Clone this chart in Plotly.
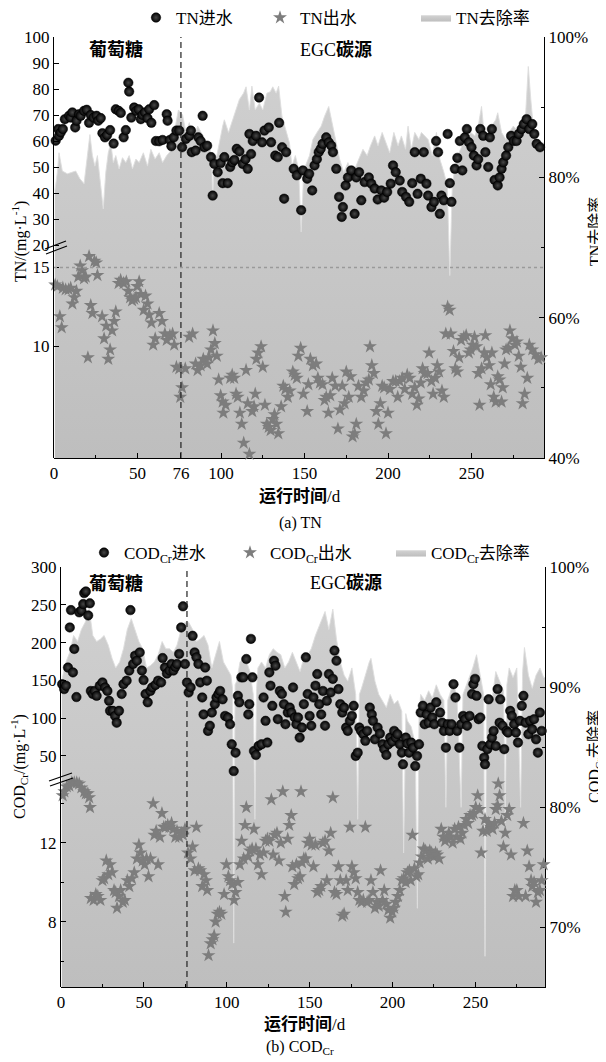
import plotly.graph_objects as go

# the page body adds an 8px offset; the figure is sized/positioned to compensate
OFF = 8
W, H = 606 - OFF, 1062 - OFF
FONT = "Liberation Serif, Noto Sans CJK SC, serif"

# ---------------- data (day, value) ----------------
TN_IN = [(1,60.1),(2.5,64.6),(3,62),(4,63.3),(5.3,64.6),(6.5,68.4),(9,69.7),(10,69),(11,71),(12.7,65.2),(13.5,67.8),(15,70.3),(16,69.7),(18,71.6),(19.6,72),(21,67),(22,70),(23.7,69),(25.5,69.7),(26.5,67.8),(28,68.8),(29,63),(30.5,61.4),(31.8,62.3),(33.6,64.2),(35.7,59),(37,72.2),(38.7,71.6),(40,70.8),(41.7,61.4),(43,64.2),(44.5,82.4),(45,79),(46.3,69),(48,72.9),(49.2,71.6),(50.7,72.2),(52,68.4),(53,70),(54.5,71),(56,68.8),(57,72.2),(58.3,67),(60,73.8),(61,60),(63,59.9),(65,60.4),(67.5,70.3),(68,67.8),(69.4,60.4),(70.3,58),(71.7,61.4),(73.3,64),(75,64),(76.7,57.6),(79,60.8),(81,62),(82,64),(82.5,55.7),(84.8,56.3),(86.4,61.4),(87.8,60),(89,69.7),(90,57.6),(91.7,58.2),(94,53.8),(95,39),(96,51.2),(98,48),(99.8,51.5),(101,43.8),(102,53.8),(104,43.8),(105.5,50),(106.7,51.8),(108,52.7),(109.4,57),(111,56),(113,51.2),(114.7,53),(116,49.3),(117,62.7),(118,55),(119,60),(121,62),(122.8,76.7),(124.6,59.5),(126,64),(128.6,65.2),(130,59.5),(132.5,54.4),(134,53.8),(134.8,67),(136.6,57.6),(137.8,37.8),(139,55.7),(143.5,49.3),(145.4,46.8),(148,33.4),(149,48.7),(151.6,45.5),(152.8,47.4),(154.6,41),(156,50.6),(157.4,53),(158.5,55.7),(159.7,57),(160.8,58.9),(163,61.4),(164.5,59.5),(166,58.2),(167,55.7),(169,49.3),(170.7,38.5),(172.3,30.8),(173,34.6),(174.6,42.9),(176,46),(178,48.7),(180,32),(181,46),(182.7,48),(184,37.2),(186,44.2),(188.5,46),(190,43.6),(192,41.7),(193.8,37.5),(196,41),(197.7,38.2),(199.5,40.4),(201.6,43.6),(203,50.6),(204.6,48),(207,44.8),(208.5,40.4),(210.8,38.5),(212.7,36.6),(214.5,43.8),(216,55.7),(217.7,39.7),(219.6,45.5),(221.4,55.7),(223,43.6),(224,39),(226,34.6),(227.6,36.6),(228.8,60),(230,55.7),(231,32),(232,39),(233.4,37.2),(235.7,62.7),(237,43.8),(238,36.6),(240,49.3),(241.5,53.5),(243,60),(244.5,48.7),(246,61.4),(247.2,64.6),(248.4,59.5),(250,57.6),(251.4,54.4),(253,50.6),(254,53),(255.3,64.6),(257,62),(258.3,55.7),(260,50),(261,61.4),(262.2,64.6),(263.8,45),(265.7,42.9),(266.8,46),(268,49.3),(269,51.8),(270.7,54.4),(272,57.6),(273.7,62),(275.3,60),(277,60),(278.3,62.7),(280,64.6),(281.3,66.5),(283,68.4),(284.6,64.6),(286.4,66.5),(287.6,62.7),(289,58.9),(291,57.6)]

TN_OUT = [(0.7,13.9),(2,13.8),(3.5,11.9),(4.6,11.2),(5.3,13.7),(7,13.6),(8.8,13.6),(10,13.7),(11,12.7),(12.2,13.1),(13.4,13.5),(14.5,14.4),(15.7,15.1),(16.8,14.8),(18,14.3),(19,14.4),(20.3,9.3),(21,15.7),(22,12.6),(23,12.1),(24.2,15.4),(25.3,15.3),(26,14.5),(28.8,11.9),(30,10.5),(31.3,11.3),(32.5,9.2),(33.6,9.8),(34.8,11),(36,11.6),(37,12.2),(38.7,14),(39.9,14.2),(41.7,14),(43.3,14.1),(44.5,13.5),(45.6,13.1),(46.8,12.9),(48,13),(49.1,13.1),(49.8,13.8),(51,14.1),(52,13.3),(53.7,12.3),(54.8,13.2),(56,12.7),(57,12),(58.3,11.5),(59.4,10.1),(60.6,10.5),(63,12.1),(64.7,11.6),(66.4,10.8),(67.5,10.4),(69.4,10.7),(71,10.8),(72,10.1),(73.3,8.7),(75,8.6),(75.6,6.8),(76.7,7.4),(78.6,8.6),(80.9,10.6),(83,10.8),(84.8,8.9),(86,8.5),(87.8,8.8),(89.4,9.2),(91.7,8.9),(92.9,9.3),(94,9.8),(95.2,11),(96.3,10.2),(97.5,9.4),(98.6,7.9),(99.8,6.9),(101,6.5),(101.4,5.8),(102.8,6.3),(105.5,8),(106.7,8.2),(107.9,8),(109,7),(110,6.8),(111.3,5.8),(112.4,5.1),(113.6,3.9),(115,8.5),(116,6.4),(117,3.2),(118.7,5.9),(119.8,6.2),(120.5,7),(121.2,9.2),(122.3,9.6),(124,10),(125,8.7),(126.3,6.3),(127.4,5.1),(128.6,4.9),(129.7,4.7),(130.9,5.4),(132,5.7),(133.2,5.1),(134.3,4.5),(136,6.2),(137.3,7.5),(138.5,7.3),(140,6.8),(141.2,7.2),(143,8.4),(144.2,8.2),(145.4,8),(146.3,9.4),(147.7,9.9),(149.3,7),(151.6,5.9),(152.3,7.6),(153.5,9.2),(155,8.8),(157,8.9),(158,8),(159.2,7.7),(160.8,7.6),(162,6.6),(163,6.8),(164.3,5.8),(165.4,6.9),(166.6,8),(168.4,7.5),(170,4.8),(171.2,6),(172.6,7.5),(174,6.4),(175,8.4),(176.5,6.8),(177.6,8.1),(178.8,4.3),(180,4.5),(181,5.1),(182.3,7.5),(184,6.8),(185.5,7.2),(186.9,7.7),(188.5,7.9),(189.2,10),(190.3,8.8),(191.5,8.3),(193,5.9),(194.2,5.1),(195.4,6.4),(196.5,7.5),(197.7,7.4),(198.8,4.5),(200,5.8),(201.2,7.3),(203,7.8),(204.6,7.8),(205.8,6.8),(207,7.8),(208.5,8),(210,7.3),(211.5,8.2),(213,8),(214.5,7),(216,7.4),(217.3,6.3),(218.4,6.7),(219.6,7.7),(220.7,8.6),(221.9,8.3),(223.7,8.3),(224.6,9.6),(226,7.8),(227,7),(228.3,8),(229.5,8.8),(230.6,8.4),(232.3,7.2),(233.4,6.8),(234.6,10.8),(235.7,12.5),(236.9,12.3),(237.6,10.8),(239.2,9.7),(240.3,8.6),(241.5,8.4),(242.6,9.3),(243.8,10.4),(245.4,10.6),(246.8,10.7),(248.4,9.6),(249.5,9.8),(250.7,10.1),(251.8,10.6),(253,10),(254,8.3),(254.8,6.3),(256,8.6),(257.6,9.6),(258.3,10.7),(259.2,9.3),(260.6,8.8),(261.5,7.6),(262.2,9.6),(263.3,6.8),(264.5,6.5),(265.7,8.1),(266.8,7.9),(268,6.5),(268.7,7.4),(269.8,8.9),(270.7,9.8),(272,9.9),(273,11),(274.4,10.5),(276,10.1),(277.2,10.3),(278.3,9.4),(279.5,8.7),(280.6,6.4),(281.8,7),(283.4,8),(284.6,10.1),(286.4,9.8),(288.2,9.5),(290,9.2),(291.7,9.3)]

TN_REM = [(0.5,78.1),(2,80.7),(3,83.5),(5,80.9),(8,80.5),(11,80.7),(13,80.9),(15.5,79.8),(18,79.1),(20,83.1),(21.5,86.1),(23,83.1),(24.5,81.6),(26,83.1),(28,78.8),(29.5,75.5),(31,80.7),(32.5,83.5),(34,84.9),(35.5,82.1),(37,83.1),(39,81.2),(41,82.8),(43,82.1),(45,83.1),(47,81.2),(49,82.6),(51,82.1),(53.5,83.5),(56,81.6),(58,84.0),(60.5,82.6),(63,83.5),(65,82.1),(67.5,83.1),(70,83.8),(72,86.4),(74.5,89.6),(77,88.9),(79,86.4),(81,87.8),(83.5,85.4),(86,87.3),(88,86.4),(90.5,85.4),(93,84.5),(94.3,83.1),(95,76.9),(96,82.6),(97.5,83.1),(100,86.4),(101,87.3),(102,88.2),(104.5,86.4),(107,88.2),(109,89.6),(111,91.1),(113.5,92.0),(115,92.9),(117,89.6),(118.5,93.0),(120.5,89.6),(123,90.6),(125,89.6),(127.5,92.0),(129.5,92.2),(131,92.9),(133,92.0),(134.5,93.0),(136.5,88.7),(139,86.4),(141,84.9),(142.5,81.6),(144.5,83.1),(146.5,81.2),(148,72.2),(149.5,80.7),(150.5,81.6),(153,83.1),(155,85.4),(157.5,86.4),(160,87.3),(162,88.7),(164.5,90.1),(166.5,87.8),(169,84.9),(171,82.6),(173.5,80.7),(176,82.1),(178,80.7),(180.5,81.4),(182.5,82.6),(185,84.0),(187.5,83.1),(189.5,84.5),(192,85.9),(194,84.5),(196.5,86.4),(199,84.9),(201,83.5),(203.5,86.4),(206,84.5),(208,85.9),(210.5,84.0),(212,87.3),(214,84.0),(216,86.4),(218.5,85.4),(220,86.4),(222,85.9),(224,85.4),(226.5,83.1),(229,86.4),(231,82.6),(233.5,80.7),(235.5,78.8),(237,66.0),(238.5,78.8),(240.5,82.1),(242.5,83.5),(245,84.9),(247,85.4),(249.5,86.4),(252,85.9),(254,87.3),(256,90.1),(257.5,86.4),(260,85.4),(262,87.3),(264.5,88.2),(265.7,89.2),(268,86.4),(270.5,85.4),(272.5,86.4),(275,87.3),(277,86.8),(279.5,85.4),(282,87.3),(284,95.8),(285.5,91.1),(287.5,85.9),(290,84.5),(292,84.9),(293.4,84.9)]

COD_IN = [(0.7,145),(1.9,138.5),(3,143),(4.2,167),(5.3,220),(6,243),(7.2,160.6),(8,191.6),(9.3,128),(11,240),(12.3,242.5),(13.4,251),(14,265.5),(15,267.7),(16.4,236),(17.4,252),(18,136),(19.2,132),(20.4,136),(21.5,129.6),(23.4,143),(25,147.3),(26.6,140.7),(28,136),(29,123),(29.6,109.7),(31.3,109.7),(32.6,103),(33.6,94),(35,109.7),(36.6,132),(37.7,145),(39.6,149.6),(41.2,163),(41.9,243),(43.5,171.7),(44.7,182.7),(45.8,176),(47.5,187),(48.8,163),(49.8,150.4),(51,132),(52.3,121),(53.9,136),(55,140.7),(57,144),(58.6,149.6),(60.4,147.3),(61.3,179.6),(62.7,167),(63.9,159),(65.5,163),(66.7,171.7),(67.8,163),(69,168),(70,171.7),(71.3,185),(72.5,220),(73.6,248),(74.8,171.7),(76,147.3),(77,134),(78.2,140.7),(79.4,209),(80.6,187),(81.7,180.5),(82.9,171.7),(84,147.3),(85.2,127.4),(86,105),(87,167),(88,149.6),(88.7,83.2),(89.8,90),(91,107.5),(92.8,118.6),(93.8,127.4),(95,132),(96,136),(97.5,125),(99,103),(100.7,100.9),(102,92),(103,65.5),(104.2,30),(105.3,54.4),(106.7,129.6),(107.6,121),(108.8,154),(110,154),(111.8,178.3),(113,105),(113.6,118.6),(114.6,204.9),(115.5,154),(116.4,56.6),(117.6,51.3),(119.2,63.3),(121,65.5),(122.2,127.4),(123.4,96.5),(124.5,67.7),(125.7,160.6),(126.4,143),(127.5,116.4),(128.5,176),(129.4,169.5),(130.8,98.7),(132,136),(133.3,132),(134.5,118.6),(135.4,92),(136.8,107.5),(138,114),(139,107.5),(140,140.7),(141,101),(142,92),(143,101),(144,74.3),(145.4,87.6),(146.5,118.6),(147.7,180.5),(148.8,132),(150,103),(151,90),(152.3,127.4),(153.5,143),(154.6,158.4),(155.8,118.6),(157,105),(158,136),(159.3,90),(160.4,123),(161.6,158.4),(162.7,134),(164,152),(165,189.4),(166.2,176),(167.4,138.5),(168.5,118.6),(169.7,107.5),(170.8,114),(172,87.6),(173,83.2),(174.3,96.5),(175.5,103),(176.6,116.4),(177.8,50),(179,54.4),(180,87.6),(181,83.2),(182.4,78.8),(183.6,70),(184.7,83.2),(186.3,114),(187.5,105),(188.2,96.5),(189.4,72),(191,87.6),(192.4,79.6),(194,65.5),(195,59),(196.3,51.3),(197.5,65.5),(198.6,74.3),(199.8,69),(201,83.2),(202,74.3),(203,78.8),(204.4,65.5),(205.6,54.4),(206.3,39),(208,74.3),(209,66.4),(210,54.4),(211.3,67.7),(212.5,61),(213.7,36.7),(214.8,50),(216,65.5),(217,107.5),(218.3,116.4),(219.4,92),(220.6,105),(221.8,94),(223,114),(224,101),(225.2,92),(226.4,121),(228.7,107.5),(230,94),(231,83.2),(232.2,61),(233.3,92),(234.5,83.2),(235.6,92),(236.8,145),(238,127.4),(239,83.2),(240.3,61),(241.4,92),(242.6,103),(243.8,98.7),(245,90),(246.5,103),(248,132),(248.8,145),(249.8,152),(250.7,129.6),(251.9,98.7),(253,100.9),(254.2,63.3),(255.3,47.8),(255.8,39),(257.2,59),(258,125),(259,65.5),(260,74.3),(261,83.2),(262.3,63.3),(263.4,138.5),(264.6,94),(265,125),(266.4,90),(267.4,59),(268.8,83.2),(269.7,81),(271,109.7),(272,103),(273.4,92),(274.5,81),(275.7,67.7),(276.9,96.5),(278,116.4),(279,129.6),(280.3,94),(282,78.8),(283,96.5),(284.3,85.4),(285.4,98.7),(286.6,72),(287.7,54.4),(288.9,107.5),(290,83.2)]

COD_OUT = [(1,14.4),(2,14.6),(3.5,14.85),(5,14.9),(6.5,15.05),(8,15.05),(9.5,15.05),(11,15),(12.3,14.8),(14,14.6),(15,14.5),(16.2,14.5),(17,14.3),(17.5,13.8),(18,9.2),(19.7,9.1),(21,9.4),(22.2,9.3),(23.8,9.1),(25,10.1),(26,10.2),(27.3,11.1),(28.5,10.4),(29.6,10.9),(30.8,10.5),(32,9.6),(33,9.5),(33.8,8.7),(35,9.3),(36,9.6),(37.3,9),(38.5,9.1),(40,10.1),(41.2,9.8),(42.8,10.2),(44.2,10.5),(45.8,11.2),(47,11.9),(48,11.5),(49.3,11.1),(50.5,10.9),(51.6,11.2),(52.8,10.3),(54,11.2),(55.6,14),(56.3,12.4),(57.4,12.6),(58.6,10.9),(59.7,12.3),(60.9,13.5),(62,12.8),(63.2,12.8),(64.4,12.9),(65.5,12.8),(66.7,13),(67.8,12.7),(69,12.3),(70,12.6),(71.3,12.3),(72.5,12.5),(73.6,12.4),(74.8,12.7),(76.6,11.5),(78.2,11.2),(79.4,11.8),(80.6,10.6),(81.7,12.8),(82.9,10.7),(84,10.6),(85.2,9.8),(86.3,10.4),(87.5,10.1),(88.2,9.6),(89,6.3),(90.3,6.9),(91.4,7.1),(92.4,7.3),(93.3,8),(94.4,8.4),(95.6,8.5),(96.7,8.4),(98.4,9.4),(99.8,10.9),(101,10.3),(102,10.1),(103.2,9.9),(104.4,9.1),(105.3,9.5),(106.7,10),(107.9,10.9),(109,12.1),(110.2,11.2),(111,12.9),(111.8,13.8),(113,11.3),(114,11.6),(115.3,11.7),(116.4,12.7),(117.6,11.7),(118.8,10.9),(120,11.4),(121,10.4),(122.2,11.5),(123.4,12.1),(124.5,12.2),(125.7,12.1),(126.9,14.2),(128,11.4),(129,12.4),(130.3,12.5),(131.5,11.1),(132.6,12),(133.8,14.6),(135,9.3),(135.6,8.5),(136.8,12.2),(137.7,12.9),(138.9,13.4),(139.6,10.8),(140.7,9.9),(142,10.9),(143,10.2),(144.2,10.3),(144.8,14.6),(145.4,11),(146.5,11.2),(147.7,11.2),(148.8,12),(150,12.2),(151.2,11.9),(152.3,10.8),(153.5,11.9),(154.6,9.5),(155.8,9.6),(157,9.8),(158,12),(159.3,12.1),(160.4,10.1),(161.6,11.6),(162.7,12.5),(164,14.3),(165,9.5),(166.2,9.4),(167.4,10.8),(168.5,10.1),(169.7,8.3),(170.8,8.4),(172,10.1),(173,9.6),(174.3,12.8),(175.5,10.8),(176.6,10.5),(177.8,10.2),(179,9.5),(180,9.1),(181.3,9),(182.4,9.1),(183.6,12.8),(184.7,9),(185.9,9.1),(187,10.1),(188.2,9.5),(189.4,8.7),(190.5,9),(191.7,8.8),(192.8,10.6),(194,9.1),(195,9.6),(196.3,8.9),(197.5,8.6),(198.6,8.2),(199.8,8.5),(201,8.7),(202,9),(203.2,9.3),(204.4,9.6),(205.6,10.1),(206.7,10.2),(207.9,10),(209,10.5),(210.2,10.6),(211,10.1),(212,12.4),(213.2,10.7),(214.4,10.3),(215.5,10.4),(216.4,11),(217.6,11.3),(218.8,11.7),(220,11.6),(221.3,11.2),(222.5,11.6),(223.6,11.5),(224.8,11.3),(226,11.5),(227,11.4),(228.2,11.2),(229.4,12.7),(230.6,12.3),(231.7,12.1),(232.9,12.3),(234,12.5),(235.2,12.3),(236.3,12),(237.5,12.7),(238.7,12.3),(239.8,12.8),(241,12.2),(242.1,12.5),(243.3,12.9),(244.4,13.2),(245.6,13),(246.8,13.4),(248,13.4),(249,13.5),(250.2,13.8),(251.4,14.4),(252.5,13.7),(253.5,11.5),(254.6,12.6),(255.8,13.2),(256.9,12.6),(258,13),(259.3,12.8),(260.4,12.7),(261.6,13),(262.3,13.7),(263.4,13.9),(263.8,15),(264.6,14.4),(265.7,13.1),(266.9,11.8),(268,12.5),(269.2,13.4),(270.4,13.7),(271.5,11.4),(272.7,9.3),(273.8,9.6),(275,9.6),(276.2,9.3),(279,13),(280.3,9.3),(281.3,11.6),(282.4,10.8),(283.6,10.1),(284.3,9.8),(285.4,10),(286.6,9),(287.7,9.5),(288.9,9.6),(290,10.1),(291.2,10.9)]

COD_REM = [(0.5,90.6),(3,92.1),(5.3,92.9),(7.6,94.3),(10,93.8),(12.3,94.8),(14.6,95.4),(17,96.5),(19.2,94.3),(21.5,93.8),(23.8,94.0),(26,94.3),(28.5,93.5),(30.8,92.4),(33,91.6),(35.4,92.1),(37.7,93.2),(40,94.8),(42.4,95.7),(44.7,94.8),(47,93.8),(49.3,93.2),(51.6,91.6),(54,91.8),(56.3,92.1),(58.6,92.7),(61,93.8),(63.2,93.2),(65.5,93.2),(67.8,92.9),(70,93.5),(72.5,94.8),(74.8,95.4),(77,95.4),(79.4,94.8),(81.7,93.8),(84,94.0),(86.3,94.3),(88.7,93.5),(91,91.6),(93.3,92.7),(95.6,93.8),(98,92.1),(100.2,91.6),(102.5,91.0),(103.5,89.9),(104.2,68.7),(105,90.2),(106,90.5),(108,92.1),(110,92.4),(112,92.1),(114,91.3),(116,89.4),(117,79.0),(118,89.9),(118.8,91.6),(121,92.1),(123.4,91.6),(125.7,92.7),(128,93.2),(130.3,92.9),(132.6,92.7),(135,91.6),(137.3,92.1),(139.6,92.9),(142,92.1),(144.2,91.3),(146.5,92.4),(148.8,92.7),(151,93.2),(153.5,94.3),(155.8,95.1),(158,95.9),(159.3,96.3),(161.6,94.8),(164,96.5),(166.2,94.0),(168.5,92.1),(170.8,91.0),(173,90.5),(175.5,91.6),(177.8,89.4),(179,79.0),(180,89.4),(181.3,89.9),(183.6,91.0),(186,92.1),(187,92.4),(189.4,90.5),(191.7,89.4),(194,88.9),(196.3,88.3),(198.6,89.4),(201,88.6),(203.2,88.9),(205.6,88.0),(206.7,76.2),(208,87.8),(209,87.2),(211.3,86.7),(213.7,85.3),(215,71.6),(216,87.8),(217,89.4),(219.4,88.9),(221.8,89.7),(224,89.1),(226.4,90.2),(228.7,89.4),(231,88.9),(232.2,80.0),(233.3,88.9),(234.5,89.4),(236.8,90.5),(239,88.9),(241.4,80.0),(242.5,89.4),(243.8,89.9),(246,90.8),(248.4,91.6),(250.7,92.7),(253,90.8),(255,89.4),(255.8,67.6),(256.8,88.9),(257.6,89.4),(260,88.9),(262.3,91.3),(264.6,90.5),(267,89.7),(268,78.7),(269,90.2),(270.4,91.6),(272.7,90.8),(275,91.6),(277.3,80.0),(278.5,91.3),(279.6,93.3),(282,91.0),(284.3,89.9),(286.6,91.0),(289,91.6),(291.2,90.8),(292,90.8)]

TN_X_TICKS = [0, 50, 76, 100, 150, 200, 250]
COD_X_TICKS = [0, 50, 100, 150, 200, 250]
TN_UP_TICKS = [20, 30, 40, 50, 60, 70, 80, 90, 100]
TN_LOW_TICKS = [10, 15]
COD_UP_TICKS = [50, 100, 150, 200, 250, 300]
COD_LOW_TICKS = [8, 12]
TN_RATE_TICKS = [40, 60, 80, 100]
COD_RATE_TICKS = [70, 80, 90, 100]
SWITCH_DAY = 76
TN_LIMIT = 15


def split(pairs):
    return [p[0] for p in pairs], [p[1] for p in pairs]


def px(x):
    return (x - OFF) / W


def py(y):
    return 1 - (y - OFF) / H


fig = go.Figure()

SPHERE = dict(symbol="circle", size=9.5, color="#030303",
              gradient=dict(type="radial", color="#474747"),
              line=dict(width=0.5, color="#000"))
STAR = dict(symbol="star", size=10.5, color="#7d7d7d", line=dict(width=0))
EDGE = dict(color="#dedede", width=0.9)


def area_grad(lo, hi):
    return dict(type="vertical", start=lo, stop=hi,
                colorscale=[[0, "#bebebe"], [1, "#d1d1d1"]])


# ---------- panel (a) ----------
x, y = split(TN_REM)
fig.add_trace(go.Scatter(x=x, y=y, xaxis="x", yaxis="y", mode="lines", fill="tozeroy",
                         fillcolor="#c9c9c9", fillgradient=area_grad(40, 100), line=EDGE,
                         name="TN去除率", legend="legend3", hoverinfo="skip"))
x, y = split(TN_OUT)
fig.add_trace(go.Scatter(x=x, y=y, xaxis="x", yaxis="y2", mode="markers", marker=STAR,
                         name="TN出水", legend="legend2", cliponaxis=False))
x, y = split(TN_IN)
fig.add_trace(go.Scatter(x=x, y=y, xaxis="x", yaxis="y3", mode="markers", marker=SPHERE,
                         name="TN进水", legend="legend", cliponaxis=False))

# ---------- panel (b) ----------
x, y = split(COD_REM)
fig.add_trace(go.Scatter(x=x, y=y, xaxis="x2", yaxis="y4", mode="lines", fill="tozeroy",
                         fillcolor="#c9c9c9", fillgradient=area_grad(65, 100), line=EDGE,
                         name="COD<sub>Cr</sub>去除率", legend="legend6", hoverinfo="skip"))
x, y = split(COD_OUT)
fig.add_trace(go.Scatter(x=x, y=y, xaxis="x2", yaxis="y5", mode="markers", marker=STAR,
                         name="COD<sub>Cr</sub>出水", legend="legend5", cliponaxis=False))
x, y = split(COD_IN)
fig.add_trace(go.Scatter(x=x, y=y, xaxis="x2", yaxis="y6", mode="markers", marker=SPHERE,
                         name="COD<sub>Cr</sub>进水", legend="legend4", cliponaxis=False))

AX = dict(showline=True, linecolor="black", linewidth=1, ticks="inside", ticklen=5,
          tickwidth=1, tickcolor="black", showgrid=False, zeroline=False,
          tickfont=dict(family=FONT, size=17, color="black"), fixedrange=True)


def minor(vals):
    return dict(tickvals=vals, ticks="inside", ticklen=3, tickcolor="black", showgrid=False)


A_TOP, A_BRK, A_BOT = 37, 250, 458
B_TOP, B_BRK, B_BOT = 567, 777, 987

fig.update_layout(
    width=W, height=H, margin=dict(l=0, r=0, t=0, b=0, autoexpand=False),
    paper_bgcolor="white", plot_bgcolor="rgba(0,0,0,0)",
    font=dict(family=FONT, size=17, color="black"),
    xaxis=dict(AX, domain=[px(54), px(544)], range=[0, 293.4], anchor="y",
               tickmode="array", tickvals=TN_X_TICKS, minor=minor([25, 125, 175, 225, 275])),
    yaxis=dict(AX, domain=[py(A_BOT), py(A_TOP)], range=[40, 100], side="right", anchor="x",
               tickmode="array", tickvals=TN_RATE_TICKS,
               ticktext=[f"{v}%" for v in TN_RATE_TICKS], minor=minor([50, 70, 90])),
    yaxis2=dict(AX, domain=[py(A_BOT), py(A_BRK)], range=[2.95, 16.1], anchor="x",
                tickmode="array", tickvals=TN_LOW_TICKS),
    yaxis3=dict(AX, domain=[py(A_BRK), py(A_TOP)], range=[18.08, 100], anchor="x",
                tickmode="array", tickvals=TN_UP_TICKS),
    xaxis2=dict(AX, domain=[px(61), px(545)], range=[0, 292], anchor="y4",
                tickmode="array", tickvals=COD_X_TICKS, minor=minor([25, 75, 125, 175, 225, 275])),
    yaxis4=dict(AX, domain=[py(B_BOT), py(B_TOP)], range=[65.05, 100], side="right", anchor="x2",
                tickmode="array", tickvals=COD_RATE_TICKS,
                ticktext=[f"{v}%" for v in COD_RATE_TICKS], minor=minor([75, 85, 95])),
    yaxis5=dict(AX, domain=[py(B_BOT), py(B_BRK)], range=[4.7, 15.34], anchor="x2",
                tickmode="array", tickvals=COD_LOW_TICKS, minor=minor([6, 10, 14])),
    yaxis6=dict(AX, domain=[py(B_BRK), py(B_TOP)], range=[22.2, 300], anchor="x2",
                tickmode="array", tickvals=COD_UP_TICKS),
    showlegend=True,
)

LEG = dict(orientation="v", xanchor="left", yanchor="middle", bgcolor="rgba(0,0,0,0)",
           borderwidth=0, font=dict(family=FONT, size=17, color="black"),
           itemclick=False, itemdoubleclick=False)
fig.update_layout(
    legend=dict(LEG, x=px(136), y=py(18)),
    legend2=dict(LEG, x=px(260), y=py(18)),
    legend3=dict(LEG, x=px(416), y=py(18)),
    legend4=dict(LEG, x=px(84), y=py(553)),
    legend5=dict(LEG, x=px(230), y=py(553)),
    legend6=dict(LEG, x=px(391), y=py(553)),
)

shapes = [
    dict(type="line", xref="x", yref="y", x0=SWITCH_DAY, x1=SWITCH_DAY, y0=40, y1=100,
         line=dict(color="#222", width=1.2, dash="6px,4px"), layer="above"),
    dict(type="line", xref="x2", yref="y4", x0=SWITCH_DAY, x1=SWITCH_DAY, y0=65.05, y1=100,
         line=dict(color="#222", width=1.2, dash="6px,4px"), layer="above"),
    dict(type="line", xref="x", yref="y2", x0=0, x1=293.4, y0=TN_LIMIT, y1=TN_LIMIT,
         line=dict(color="#9a9a9a", width=1.5, dash="dot"), layer="above"),
]
for (xa, ya, xb, yb) in [(45, 249, 66, 241), (46, 254, 67, 246),
                         (49, 781, 72, 773), (50, 786, 73, 778)]:
    shapes.append(dict(type="line", xref="paper", yref="paper", x0=px(xa), y0=py(ya),
                       x1=px(xb), y1=py(yb), line=dict(color="black", width=1.2), layer="above"))
fig.update_layout(shapes=shapes)


def note(text, x, y, size=17, angle=0):
    fig.add_annotation(text=text, x=px(x), y=py(y), xref="paper", yref="paper",
                       showarrow=False, xanchor="center", yanchor="middle", textangle=angle,
                       font=dict(family=FONT, size=size, color="black"))


note("<b>葡萄糖</b>", 116, 50, 18)
note("EGC<b>碳源</b>", 336, 50, 18)
note("<b>葡萄糖</b>", 116, 583, 18)
note("EGC<b>碳源</b>", 346, 583, 18)
note("TN/(mg·L<sup>-1</sup>)", 19, 242, 16, -90)
note("COD<sub>Cr</sub>/(mg·L<sup>-1</sup>)", 19, 767, 16, -90)
note("TN去除率", 595, 232, 16, -90)
note("COD<sub>Cr</sub>去除率", 595, 757, 16, -90)
note("<b>运行时间</b>/d", 300, 497, 17)
note("<b>运行时间</b>/d", 305, 1024, 17)
note("(a) TN", 300, 523, 16)
note("(b) COD<sub>Cr</sub>", 300, 1047, 16)

fig.write_html("out.html")
